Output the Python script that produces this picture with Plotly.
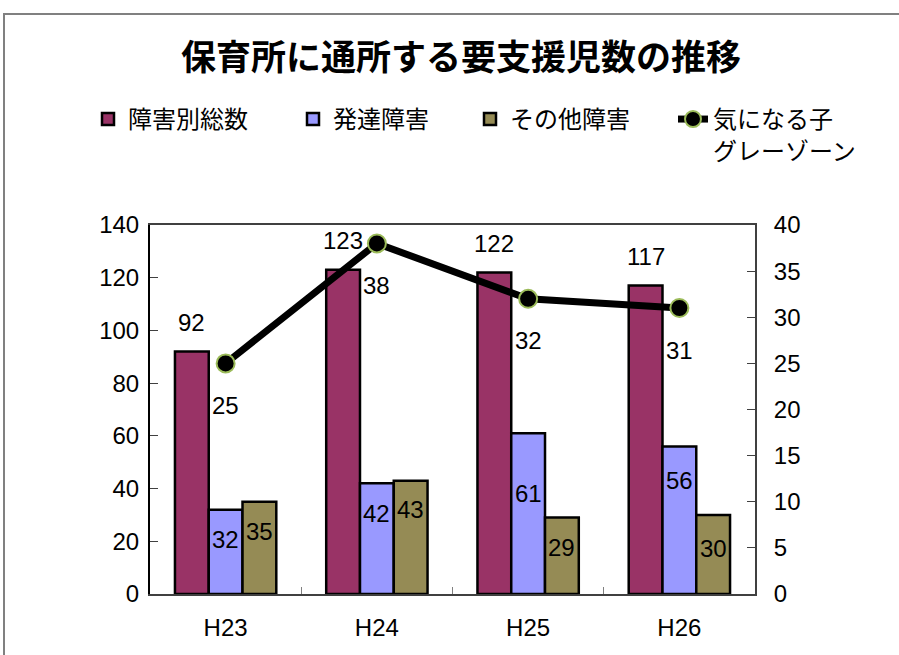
import plotly.graph_objects as go

categories = ["H23", "H24", "H25", "H26"]
total_disability = [92, 123, 122, 117]
developmental = [32, 42, 61, 56]
other_disability = [35, 43, 29, 30]
gray_zone = [25, 38, 32, 31]

series_names = ["障害別総数", "発達障害", "その他障害", "気になる子<br>グレーゾーン"]
colors = ["#993366", "#9999FF", "#958B55"]

FONT = "Liberation Sans, Noto Sans CJK JP, sans-serif"
LEG_FONT = "Noto Sans CJK JP"

# plot area: x 150..755 px, y 225..594 px
PL, PW, PT, PH = 150, 605, 225, 369
legend_px = [88, 293, 470, 673]   # left edges of the legend entries (px)
legend_keys = ["legend", "legend2", "legend3", "legend4"]

fig = go.Figure()
for vals, name, col, lk in zip([total_disability, developmental, other_disability],
                               series_names[:3], colors, legend_keys[:3]):
    fig.add_trace(go.Bar(
        x=categories, y=vals, name=name, legend=lk,
        marker=dict(color=col, line=dict(color="black", width=2.5)),
        hoverinfo="y",
    ))

fig.add_trace(go.Scatter(
    x=categories, y=gray_zone, name=series_names[3], yaxis="y2", legend=legend_keys[3],
    mode="lines+markers",
    line=dict(color="black", width=7),
    marker=dict(color="black", size=18, line=dict(color="#9BBB59", width=2)),
))

# data labels
bar_shift = 33.8
label_specs = [
    (total_disability, -bar_shift, [29, 29, 29, 29]),
    (developmental, 0, [-30, -30, -60, -34]),
    (other_disability, bar_shift, [-30, -29, -30, -34]),
]
annotations = []
for vals, xs, yss in label_specs:
    for c, v, ys in zip(categories, vals, yss):
        annotations.append(dict(x=c, y=v, xref="x", yref="y", text=str(v),
                                showarrow=False, xshift=xs, yshift=ys,
                                font=dict(size=24, family=FONT, color="black")))
for c, v in zip(categories, gray_zone):
    annotations.append(dict(x=c, y=v, xref="x", yref="y2", text=str(v),
                            showarrow=False, yshift=-42,
                            font=dict(size=24, family=FONT, color="black")))

legends = {}
for lk, px in zip(legend_keys, legend_px):
    legends[lk] = dict(orientation="h", x=(px - PL) / PW, y=1.347,
                       xanchor="left", yanchor="top",
                       font=dict(size=24, family=LEG_FONT, color="black"),
                       valign="top", bgcolor="rgba(0,0,0,0)")

fig.update_layout(
    width=899, height=655,
    margin=dict(l=PL, r=899 - PL - PW, t=PT, b=655 - PT - PH, autoexpand=False),
    paper_bgcolor="white", plot_bgcolor="white",
    font=dict(family=FONT, size=24, color="black"),
    title=dict(text="<b>保育所に通所する要支援児数の推移</b>",
               x=461 / 899, xref="container", y=1 - 58 / 655, yref="container",
               yanchor="middle", xanchor="center",
               font=dict(size=35, family=LEG_FONT, color="black")),
    barmode="group", bargap=0.33, bargroupgap=0,
    showlegend=True,
    **legends,
    xaxis=dict(showline=True, linecolor="#404040", linewidth=2, mirror=True,
               ticks="inside", tickson="boundaries", ticklen=7, tickcolor="#808080",
               showgrid=False, ticklabelstandoff=11, tickfont=dict(size=24)),
    yaxis=dict(range=[0, 140], dtick=20, showline=True, linecolor="black", linewidth=2,
               ticks="inside", ticklen=8, tickcolor="#404040", showgrid=False,
               zeroline=False, ticklabelstandoff=4, tickfont=dict(size=24)),
    yaxis2=dict(range=[0, 40], dtick=5, overlaying="y", side="right",
                showline=True, linecolor="#404040", linewidth=2,
                ticks="inside", ticklen=8, tickcolor="#404040", showgrid=False,
                zeroline=False, ticklabelstandoff=12, tickfont=dict(size=24)),
    annotations=annotations,
    shapes=[dict(type="rect", xref="paper", yref="paper",
                 x0=(4 - PL) / PW, x1=1.6, y0=-0.5, y1=(PT + PH - 14) / PH,
                 line=dict(color="#808080", width=2), layer="below")],
)

fig.write_html("out.html", config={"displayModeBar": False},
               post_script="document.body.style.margin='0';document.body.style.overflow='hidden';")
